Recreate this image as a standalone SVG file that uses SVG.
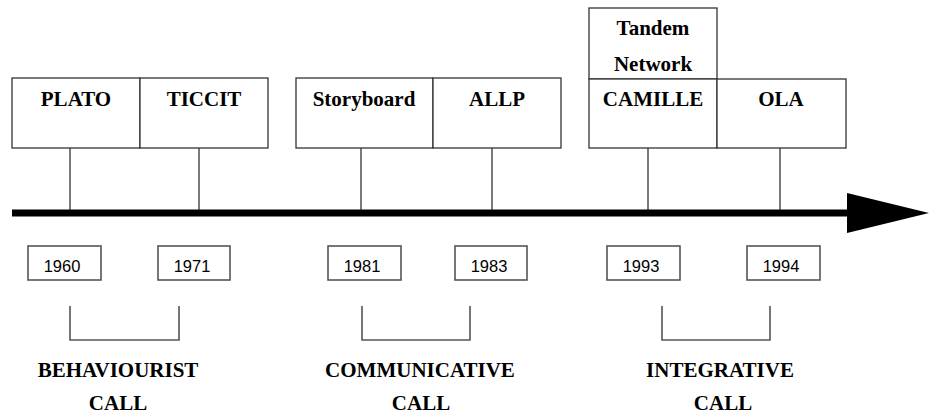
<svg xmlns="http://www.w3.org/2000/svg" width="929" height="416" viewBox="0 0 929 416">
<style>
.box{fill:#fff;stroke:#333;stroke-width:1.3}
.yr{fill:#fff;stroke:#555;stroke-width:1.6}
.ln{stroke:#333;stroke-width:1.3;fill:none}
.br{stroke:#555;stroke-width:1.6;fill:none}
.t{font-family:"Liberation Serif","Times New Roman",serif;font-weight:bold;font-size:21px;fill:#000;text-anchor:middle}
.y{font-family:"Liberation Sans",Arial,sans-serif;font-size:16.5px;fill:#000;text-anchor:middle}
</style>
<rect width="929" height="416" fill="#fff"/>
<g id="connectors">
<line class="ln" x1="70" y1="148" x2="70" y2="211"/>
<line class="ln" x1="199" y1="148" x2="199" y2="211"/>
<line class="ln" x1="361" y1="148" x2="361" y2="211"/>
<line class="ln" x1="492" y1="148" x2="492" y2="211"/>
<line class="ln" x1="648" y1="148" x2="648" y2="211"/>
<line class="ln" x1="780" y1="148" x2="780" y2="211"/>
<line x1="12" y1="213" x2="850" y2="213" stroke="#000" stroke-width="7"/>
<polygon points="847,193 929,213 847,233" fill="#000"/>
<polyline class="br" points="70,306 70,340 179,340 179,306"/>
<polyline class="br" points="362,306 362,340 470,340 470,306"/>
<polyline class="br" points="662,306 662,340 770,340 770,306"/>
</g>
<g id="plato"><rect class="box" x="12" y="78" width="128" height="70"/><text class="t" x="76" y="106">PLATO</text></g>
<g id="ticcit"><rect class="box" x="140" y="78" width="128" height="70"/><text class="t" x="204" y="106">TICCIT</text></g>
<g id="storyboard"><rect class="box" x="296" y="78" width="137" height="70"/><text class="t" x="364" y="106">Storyboard</text></g>
<g id="allp"><rect class="box" x="433" y="78" width="128" height="70"/><text class="t" x="497" y="106">ALLP</text></g>
<g id="tandem"><rect class="box" x="589" y="8" width="128" height="71"/><text class="t" x="653" y="35">Tandem</text><text class="t" x="653" y="71">Network</text></g>
<g id="camille"><rect class="box" x="589" y="79" width="128" height="69"/><text class="t" x="653" y="106">CAMILLE</text></g>
<g id="ola"><rect class="box" x="717" y="79" width="129" height="69"/><text class="t" x="781" y="106">OLA</text></g>
<g id="y1960"><rect class="yr" x="28" y="246" width="73" height="34"/><text class="y" x="62" y="272">1960</text></g>
<g id="y1971"><rect class="yr" x="158" y="246" width="72" height="34"/><text class="y" x="192" y="272">1971</text></g>
<g id="y1981"><rect class="yr" x="328" y="246" width="73" height="34"/><text class="y" x="362" y="272">1981</text></g>
<g id="y1983"><rect class="yr" x="455" y="246" width="72" height="34"/><text class="y" x="489" y="272">1983</text></g>
<g id="y1993"><rect class="yr" x="607" y="246" width="73" height="34"/><text class="y" x="641" y="272">1993</text></g>
<g id="y1994"><rect class="yr" x="747" y="246" width="73" height="34"/><text class="y" x="781" y="272">1994</text></g>
<g id="behaviourist"><text class="t" x="118" y="377">BEHAVIOURIST</text><text class="t" x="118" y="410">CALL</text></g>
<g id="communicative"><text class="t" x="420" y="377">COMMUNICATIVE</text><text class="t" x="421" y="410">CALL</text></g>
<g id="integrative"><text class="t" x="720" y="377">INTEGRATIVE</text><text class="t" x="723" y="410">CALL</text></g>
</svg>
